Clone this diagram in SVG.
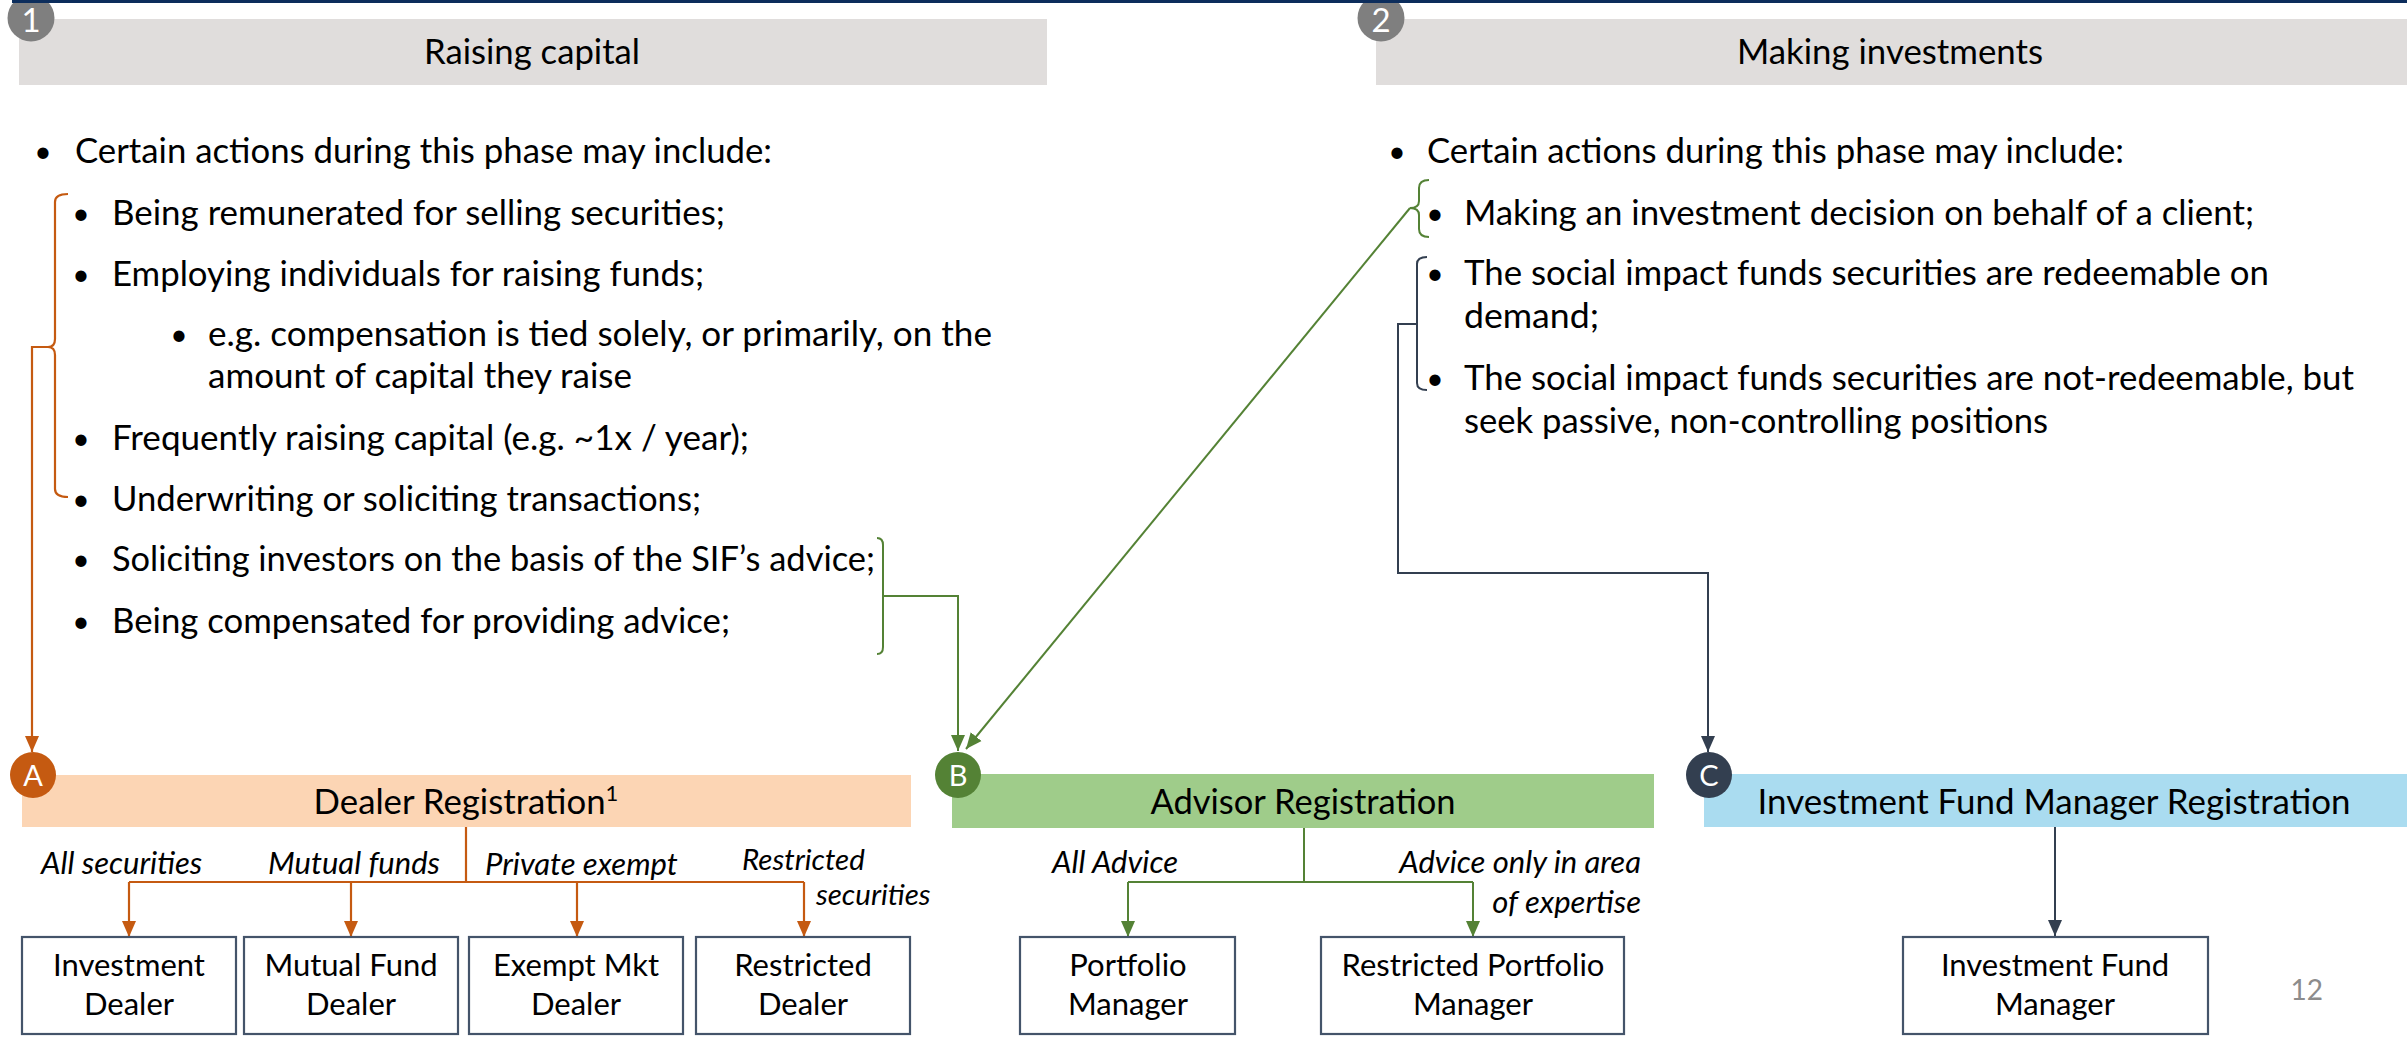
<svg xmlns="http://www.w3.org/2000/svg" width="2407" height="1038" viewBox="0 0 2407 1038">
<style>
text{font-family:Lato,"Open Sans","Liberation Sans",sans-serif;fill:#000}
.body{font-size:34.5px}
.bul{font-size:30px;text-anchor:middle}
.title{font-size:34.5px;text-anchor:middle}
.lbl{font-size:31px;font-style:italic}
.box{fill:#fff;stroke:#44546a;stroke-width:2.2}
.btxt{font-size:31px;text-anchor:middle}
.num{font-size:33px;fill:#fff;text-anchor:middle}
.let{font-size:29px;fill:#fff;text-anchor:middle}
.or{stroke:#c55a11;stroke-width:2.2;fill:none}
.gr{stroke:#548235;stroke-width:2;fill:none}
.dk{stroke:#333f50;stroke-width:2;fill:none}
</style>
<defs>
<marker id="aO" markerUnits="userSpaceOnUse" markerWidth="16" markerHeight="16" viewBox="0 0 16 16" refX="16" refY="8" orient="auto"><path d="M0,1 L16,8 L0,15 Z" fill="#c55a11"/></marker>
<marker id="aG" markerUnits="userSpaceOnUse" markerWidth="16" markerHeight="16" viewBox="0 0 16 16" refX="16" refY="8" orient="auto"><path d="M0,1 L16,8 L0,15 Z" fill="#548235"/></marker>
<marker id="aD" markerUnits="userSpaceOnUse" markerWidth="16" markerHeight="16" viewBox="0 0 16 16" refX="16" refY="8" orient="auto"><path d="M0,1 L16,8 L0,15 Z" fill="#333f50"/></marker>
</defs>
<rect x="0" y="0" width="2407" height="1038" fill="#fff"/>

<g id="phase-1">
<rect x="19" y="19" width="1028" height="66" fill="#e0dddc"/>
<text class="title" x="532" y="64" textLength="216" lengthAdjust="spacingAndGlyphs">Raising capital</text>
<circle cx="31" cy="18" r="23.5" fill="#7f7f7f"/>
<text class="num" x="31" y="32">1</text>
</g>
<g id="phase-2">
<rect x="1376" y="19" width="1031" height="66" fill="#e0dddc"/>
<text class="title" x="1890" y="64" textLength="306" lengthAdjust="spacingAndGlyphs">Making investments</text>
<circle cx="1381" cy="18" r="23.5" fill="#7f7f7f"/>
<text class="num" x="1381" y="32">2</text>
</g>
<rect x="12" y="0" width="2395" height="3" fill="#0c2d5c"/>

<g id="list-left" class="body">
<text class="bul" x="43" y="162">•</text><text x="75" y="163" textLength="697" lengthAdjust="spacingAndGlyphs">Certain actions during this phase may include:</text>
<text class="bul" x="81" y="224">•</text><text x="112" y="225" textLength="613" lengthAdjust="spacingAndGlyphs">Being remunerated for selling securities;</text>
<text class="bul" x="81" y="285">•</text><text x="112" y="286" textLength="592" lengthAdjust="spacingAndGlyphs">Employing individuals for raising funds;</text>
<text class="bul" x="179" y="345">•</text><text x="208" y="346" textLength="784" lengthAdjust="spacingAndGlyphs">e.g. compensation is tied solely, or primarily, on the</text>
<text x="208" y="388" textLength="424" lengthAdjust="spacingAndGlyphs">amount of capital they raise</text>
<text class="bul" x="81" y="449">•</text><text x="112" y="450" textLength="637" lengthAdjust="spacingAndGlyphs">Frequently raising capital (e.g. ~1x / year);</text>
<text class="bul" x="81" y="510">•</text><text x="112" y="511" textLength="589" lengthAdjust="spacingAndGlyphs">Underwriting or soliciting transactions;</text>
<text class="bul" x="81" y="570">•</text><text x="112" y="571" textLength="763" lengthAdjust="spacingAndGlyphs">Soliciting investors on the basis of the SIF’s advice;</text>
<text class="bul" x="81" y="632">•</text><text x="112" y="633" textLength="618" lengthAdjust="spacingAndGlyphs">Being compensated for providing advice;</text>
</g>

<g id="list-right" class="body">
<text class="bul" x="1397" y="162">•</text><text x="1427" y="163" textLength="697" lengthAdjust="spacingAndGlyphs">Certain actions during this phase may include:</text>
<text class="bul" x="1435" y="224">•</text><text x="1464" y="225" textLength="790" lengthAdjust="spacingAndGlyphs">Making an investment decision on behalf of a client;</text>
<text class="bul" x="1435" y="284">•</text><text x="1464" y="285" textLength="805" lengthAdjust="spacingAndGlyphs">The social impact funds securities are redeemable on</text>
<text x="1464" y="328" textLength="135" lengthAdjust="spacingAndGlyphs">demand;</text>
<text class="bul" x="1435" y="389">•</text><text x="1464" y="390" textLength="890" lengthAdjust="spacingAndGlyphs">The social impact funds securities are not-redeemable, but</text>
<text x="1464" y="433" textLength="584" lengthAdjust="spacingAndGlyphs">seek passive, non-controlling positions</text>
</g>

<g id="connectors">
<path class="or" d="M68,194 Q55,194 55,202 L55,339 Q55,347 48,347 Q55,347 55,355 L55,489 Q55,497 68,497"/>
<path class="or" d="M48,347 L32,347 L32,752" marker-end="url(#aO)"/>
<path class="gr" d="M877,538 Q883,538 883,545 L883,647 Q883,654 877,654"/>
<path class="gr" d="M883,596 L958,596 L958,751" marker-end="url(#aG)"/>
<path class="gr" d="M1429,180 Q1419,180 1419,188 L1419,201 Q1419,208 1410,208 Q1419,208 1419,215 L1419,229 Q1419,237 1429,237"/>
<path class="gr" d="M1410,208 L966,749" marker-end="url(#aG)"/>
<path class="dk" d="M1427,257 Q1417,257 1417,264 L1417,383 Q1417,390 1427,390"/>
<path class="dk" d="M1417,324 L1398,324 L1398,573 L1708,573 L1708,752" marker-end="url(#aD)"/>
<path class="or" d="M466,827 L466,882 M129,882 L804,882"/>
<path class="or" d="M129,882 L129,937" marker-end="url(#aO)"/>
<path class="or" d="M351,882 L351,937" marker-end="url(#aO)"/>
<path class="or" d="M577,882 L577,937" marker-end="url(#aO)"/>
<path class="or" d="M804,882 L804,937" marker-end="url(#aO)"/>
<path class="gr" d="M1304,828 L1304,882 M1128,882 L1473,882"/>
<path class="gr" d="M1128,882 L1128,937" marker-end="url(#aG)"/>
<path class="gr" d="M1473,882 L1473,937" marker-end="url(#aG)"/>
<path class="dk" d="M2055,827 L2055,936" marker-end="url(#aD)"/>
</g>

<g id="node-A">
<rect x="22" y="775" width="889" height="52" fill="#fcd5b4"/>
<text class="title" x="466" y="814"><tspan textLength="292" lengthAdjust="spacingAndGlyphs">Dealer Registration</tspan><tspan font-size="22" dy="-13">1</tspan></text>
<circle cx="33" cy="775" r="23" fill="#c55a11"/>
<text class="let" x="33" y="786">A</text>
</g>
<g id="node-B">
<rect x="952" y="774" width="702" height="54" fill="#9fcc8a"/>
<text class="title" x="1303" y="814">Advisor Registration</text>
<circle cx="958" cy="775" r="23" fill="#548235"/>
<text class="let" x="958" y="786">B</text>
</g>
<g id="node-C">
<rect x="1704" y="774" width="703" height="53" fill="#aadcf0"/>
<text class="title" x="2054" y="814" textLength="593" lengthAdjust="spacingAndGlyphs">Investment Fund Manager Registration</text>
<circle cx="1709" cy="775" r="23" fill="#333f50"/>
<text class="let" x="1709" y="786">C</text>
</g>

<g id="edge-labels" class="lbl">
<text x="41" y="874">All securities</text>
<text x="268" y="874">Mutual funds</text>
<text x="485" y="875">Private exempt</text>
<text x="742" y="870" font-size="29.5">Restricted</text>
<text x="816" y="905" font-size="29.5">securities</text>
<text x="1052" y="873">All Advice</text>
<text x="1641" y="873" text-anchor="end">Advice only in area</text>
<text x="1641" y="913" text-anchor="end">of expertise</text>
</g>

<g id="box-investment-dealer"><rect class="box" x="22" y="937" width="214" height="97"/><text class="btxt" x="129" y="976">Investment</text><text class="btxt" x="129" y="1015">Dealer</text></g>
<g id="box-mutual-fund-dealer"><rect class="box" x="244" y="937" width="214" height="97"/><text class="btxt" x="351" y="976">Mutual Fund</text><text class="btxt" x="351" y="1015">Dealer</text></g>
<g id="box-exempt-mkt-dealer"><rect class="box" x="469" y="937" width="214" height="97"/><text class="btxt" x="576" y="976">Exempt Mkt</text><text class="btxt" x="576" y="1015">Dealer</text></g>
<g id="box-restricted-dealer"><rect class="box" x="696" y="937" width="214" height="97"/><text class="btxt" x="803" y="976">Restricted</text><text class="btxt" x="803" y="1015">Dealer</text></g>
<g id="box-portfolio-manager"><rect class="box" x="1020" y="937" width="215" height="97"/><text class="btxt" x="1128" y="976">Portfolio</text><text class="btxt" x="1128" y="1015">Manager</text></g>
<g id="box-restricted-pm"><rect class="box" x="1321" y="937" width="303" height="97"/><text class="btxt" x="1473" y="976">Restricted Portfolio</text><text class="btxt" x="1473" y="1015">Manager</text></g>
<g id="box-ifm"><rect class="box" x="1903" y="937" width="305" height="97"/><text class="btxt" x="2055" y="976">Investment Fund</text><text class="btxt" x="2055" y="1015">Manager</text></g>

<text x="2323" y="1000" font-size="28" text-anchor="end" style="fill:#8c8c8c">12</text>
</svg>
